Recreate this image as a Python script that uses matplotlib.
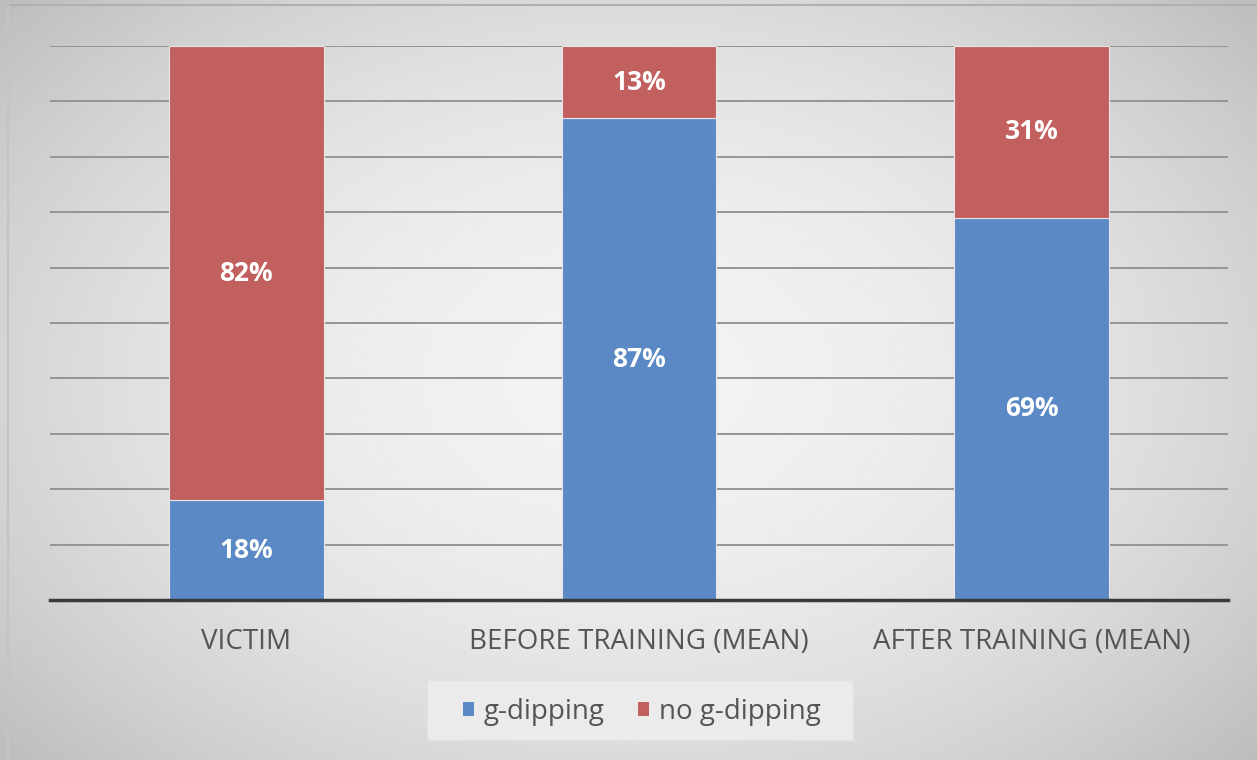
"""Stacked 100% bar chart: g-dipping share by group."""

import numpy as np
import matplotlib
matplotlib.use("Agg")
import matplotlib.pyplot as plt
from matplotlib.patches import Rectangle

# ---------------------------------------------------------------------------
# Data
# ---------------------------------------------------------------------------
categories = ["VICTIM", "BEFORE TRAINING (MEAN)", "AFTER TRAINING (MEAN)"]
g_dipping = [18, 87, 69]
no_g_dipping = [82, 13, 31]
series_labels = ["g-dipping", "no g-dipping"]

_BLUE = "#5a89c5"
_RED = "#c1605e"
_TEXT = "#555555"

plt.rcParams["font.family"] = ["Open Sans", "DejaVu Sans"]

W, H = 1257, 760
fig = plt.figure(figsize=(W / 100, H / 100), dpi=100)

# --- radial gradient background ------------------------------------------
bg = fig.add_axes([0, 0, 1, 1], zorder=-10)
yy, xx = np.mgrid[-1:1:400j, -1:1:660j]
r = np.sqrt((xx * 0.95) ** 2 + (yy * 0.85) ** 2)
shade = 0.95 - 0.13 * np.clip(r, 0, 1.3) ** 2
bg.imshow(shade, cmap="gray", vmin=0, vmax=1, aspect="auto",
          extent=[0, 1, 0, 1], interpolation="bilinear")
bg.set_xlim(0, 1)
bg.set_ylim(0, 1)
bg.axis("off")
# thin frame at top and left
bg.plot([8 / W, 1], [1 - 5 / H, 1 - 5 / H], color="#b0b0b0", lw=1.5)
bg.plot([8 / W, 8 / W], [0, 1 - 5 / H], color="#c4c4c4", lw=1.5)
# legend backdrop
bg.add_patch(Rectangle((427 / W, 1 - 740 / H), 426 / W, 60 / H,
                       facecolor="#ebebeb", edgecolor="#e2e2e2", lw=1))

# --- main axes -------------------------------------------------------------
ax = fig.add_axes([50 / W, 1 - 600 / H, 1178 / W, 554 / H])
ax.patch.set_alpha(0)

x = np.arange(len(categories))
width = 0.394
b1 = ax.bar(x, g_dipping, width, color=_BLUE, edgecolor="#e6e6e6",
            linewidth=0.8, zorder=3, label=series_labels[0])
b2 = ax.bar(x, no_g_dipping, width, bottom=g_dipping, color=_RED,
            edgecolor="#e6e6e6", linewidth=0.8, zorder=3,
            label=series_labels[1])

for bars in (b1, b2):
    ax.bar_label(bars, labels=[f"{int(round(b.get_height()))}%" for b in bars],
                 label_type="center", color="white", fontsize=19,
                 fontweight="bold", zorder=4)

ax.set_xlim(-0.5, len(categories) - 0.5)
ax.set_ylim(0, 100)
ax.set_yticks(np.arange(0, 101, 10))
ax.set_yticklabels([])
ax.tick_params(axis="y", length=0)
ax.yaxis.grid(True, color="#959595", linewidth=1.4, zorder=1)
ax.set_axisbelow(True)

ax.set_xticks(x)
ax.set_xticklabels(categories, fontsize=20, color=_TEXT)
ax.tick_params(axis="x", length=0, pad=20)

for side in ("top", "right", "left"):
    ax.spines[side].set_visible(False)
ax.spines["bottom"].set_color("#3a3a3a")
ax.spines["bottom"].set_linewidth(2.5)
ax.spines["bottom"].set_zorder(5)

leg = fig.legend(handles=[b1, b2], labels=series_labels, loc="center",
                 bbox_to_anchor=(642 / W, 1 - 712 / H), ncol=2,
                 fontsize=20, frameon=False,
                 handlelength=0.4, handleheight=0.4, handletextpad=0.35,
                 columnspacing=1.2)
for t in leg.get_texts():
    t.set_color(_TEXT)
for h in leg.legend_handles:
    h.set_edgecolor("none")

fig.savefig("out.png", dpi=100)
